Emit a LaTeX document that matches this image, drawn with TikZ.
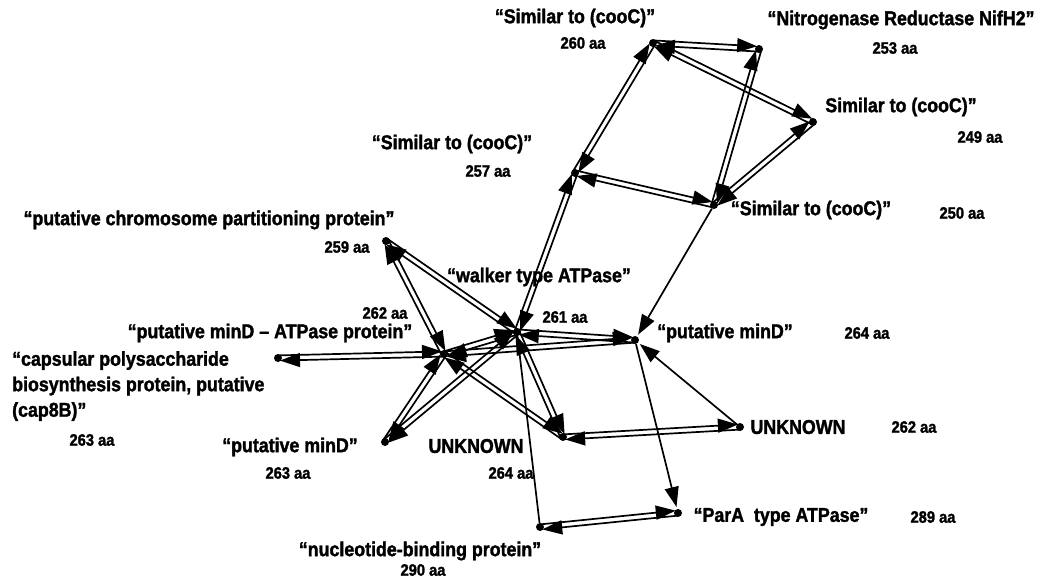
\documentclass[tikz,border=0pt]{standalone}
\usepackage{fontspec}
\setmainfont{Liberation Sans}
\newfontfamily\labfont[FakeStretch=0.89,FakeBold=1.6]{Liberation Sans Bold}
\usetikzlibrary{calc,arrows.meta}
\tikzset{
  dot/.style={circle,fill=black,inner sep=0pt,minimum size=8pt},
  lab/.style={inner sep=0pt,font=\labfont\fontsize{20}{23}\selectfont},
  num/.style={inner sep=0pt,font=\labfont\fontsize{16.5}{19}\selectfont},
  edge/.style={line width=1.7pt,-{Triangle[length=20pt,width=14pt]},shorten >=2pt},
}
\newcommand\dedge[2]{%
  \draw[edge] ($(#1)!2.6pt!90:(#2)$) -- ($(#2)!2.6pt!-90:(#1)$);
  \draw[edge] ($(#2)!2.6pt!90:(#1)$) -- ($(#1)!2.6pt!-90:(#2)$);
}
\begin{document}
\begin{tikzpicture}[x=1pt,y=-1pt]
\useasboundingbox (0,0) rectangle (1046,579);
% dots
\node[dot] (A) at (653,43) {};
\node[dot] (B) at (759,49) {};
\node[dot] (C) at (813,122) {};
\node[dot] (D) at (575,173) {};
\node[dot] (E) at (714,205) {};
\node[dot] (F) at (386,241) {};
\node[dot] (W) at (517,332) {};
\node[dot] (G) at (635,340) {};
\node[dot] (H) at (444,354) {};
\node[dot] (N) at (278,358) {};
\node[dot] (I) at (385,442) {};
\node[dot] (J) at (563,437) {};
\node[dot] (K) at (740,427) {};
\node[dot] (L) at (678,513) {};
\node[dot] (M) at (540,527) {};
% labels
\node[lab] (tA) at (575,18) {“Similar to (cooC)”};
\node[num] (nA) at (583,43) {260 aa};
\node[lab] (tB) at (901,20) {“Nitrogenase Reductase NifH2”};
\node[num] (nB) at (895,48) {253 aa};
\node[lab] (tC) at (901,107) {Similar to (cooC)”};
\node[num] (nC) at (980,137) {249 aa};
\node[lab] (tD) at (452,144) {“Similar to (cooC)”};
\node[num] (nD) at (488,171) {257 aa};
\node[lab] (tE) at (811,210) {“Similar to (cooC)”};
\node[num] (nE) at (962,213) {250 aa};
\node[lab] (tF) at (209,220) {“putative chromosome partitioning protein”};
\node[num] (nF) at (347,247) {259 aa};
\node[lab] (tW) at (539,277) {“walker type ATPase”};
\node[num] (nW) at (565,317) {261 aa};
\node[num] (nH) at (385,313) {262 aa};
\node[lab] (tH) at (270,333) {“putative minD – ATPase protein”};
\node[lab,anchor=north west,align=left,font=\labfont\fontsize{20}{25.5}\selectfont] (tN) at (12,351) {“capsular polysaccharide\\biosynthesis protein, putative\\(cap8B)”};
\node[num] (nN) at (92,440) {263 aa};
\node[lab] (tI) at (290,447) {“putative minD”};
\node[num] (nI) at (288,473) {263 aa};
\node[lab] (tJ) at (476,446) {UNKNOWN};
\node[num] (nJ) at (511,473) {264 aa};
\node[lab] (tG) at (725,333) {“putative minD”};
\node[num] (nG) at (867,333) {264 aa};
\node[lab] (tK) at (798,427) {UNKNOWN};
\node[num] (nK) at (914,427) {262 aa};
\node[lab] (tL) at (781,517) {“ParA\ \ type ATPase”};
\node[num] (nL) at (933,517) {289 aa};
\node[lab] (tM) at (420,551) {“nucleotide-binding protein”};
\node[num] (nM) at (423,570) {290 aa};
% double edges
\dedge{A}{B}
\dedge{A}{C}
\dedge{A}{D}
\dedge{B}{E}
\dedge{C}{E}
\dedge{D}{E}
\dedge{D}{W}
\dedge{F}{W}
\dedge{F}{H}
\dedge{W}{G}
\dedge{W}{H}
\dedge{H}{N}
\dedge{H}{I}
\dedge{W}{I}
\dedge{W}{J}
\dedge{H}{J}
\dedge{H}{G}
\dedge{J}{K}
\dedge{M}{L}
% single edges
\draw[edge] (E) -- (G);
\draw[edge] (K) -- (G);
\draw[edge] (G) -- (L);
\draw[line width=1.7pt] (M) -- (W);
\end{tikzpicture}
\end{document}
